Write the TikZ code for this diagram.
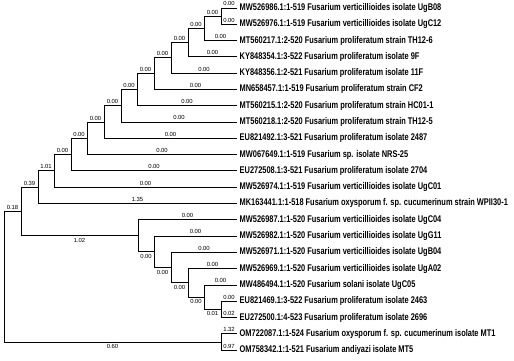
\documentclass[tikz,border=0pt]{standalone}
\usepackage{fontspec}
\setmainfont{Liberation Sans}
\newfontfamily\narrowfont[FakeStretch=0.765]{Liberation Sans}
\begin{document}
\begin{tikzpicture}[x=1pt,y=-1pt,
  br/.style={line width=0.85pt, black},
  leaf/.style={anchor=west, inner sep=0pt, font=\narrowfont\bfseries\fontsize{9.7}{10}\selectfont},
  bl/.style={font=\fontsize{5.9}{6}\selectfont, inner sep=0pt},
  ab/.style={bl, anchor=south, yshift=1.6pt},
  be/.style={bl, anchor=north, yshift=-2pt}]
\useasboundingbox (0,0) rectangle (514,361);
% leaves
\foreach \i/\t in {
0/{MW526986.1:1-519 Fusarium verticillioides isolate UgB08},
1/{MW526976.1:1-519 Fusarium verticillioides isolate UgC12},
2/{MT560217.1:2-520 Fusarium proliferatum strain TH12-6},
3/{KY848354.1:3-522 Fusarium proliferatum isolate 9F},
4/{KY848356.1:2-521 Fusarium proliferatum isolate 11F},
5/{MN658457.1:1-519 Fusarium proliferatum strain CF2},
6/{MT560215.1:2-520 Fusarium proliferatum strain HC01-1},
7/{MT560218.1:2-520 Fusarium proliferatum strain TH12-5},
8/{EU821492.1:3-521 Fusarium proliferatum isolate 2487},
9/{MW067649.1:1-519 Fusarium sp. isolate NRS-25},
10/{EU272508.1:3-521 Fusarium proliferatum isolate 2704},
11/{MW526974.1:1-519 Fusarium verticillioides isolate UgC01},
12/{MK163441.1:1-518 Fusarium oxysporum f. sp. cucumerinum strain WPII30-1},
13/{MW526987.1:1-520 Fusarium verticillioides isolate UgC04},
14/{MW526982.1:1-520 Fusarium verticillioides isolate UgG11},
15/{MW526971.1:1-520 Fusarium verticillioides isolate UgB04},
16/{MW526969.1:1-520 Fusarium verticillioides isolate UgA02},
17/{MW486494.1:1-520 Fusarium solani isolate UgC05},
18/{EU821469.1:3-522 Fusarium proliferatum isolate 2463},
19/{EU272500.1:4-523 Fusarium proliferatum isolate 2696},
20/{OM722087.1:1-524 Fusarium oxysporum f. sp. cucumerinum isolate MT1},
21/{OM758342.1:1-521 Fusarium andiyazi isolate MT5}}{
  \coordinate (l\i) at (237,{8+16.29*\i});
  \node[leaf] (t\i) at (239.5,{8+16.29*\i}) {\t};
}
% internal nodes
\coordinate (A) at (221,16.15);
\coordinate (B) at (204,28.36);
\coordinate (C) at (188,42.62);
\coordinate (D) at (171,57.89);
\coordinate (E) at (154,73.67);
\coordinate (F) at (137,89.70);
\coordinate (G) at (121,105.87);
\coordinate (H) at (104,122.09);
\coordinate (I) at (87,138.35);
\coordinate (J) at (71,154.63);
\coordinate (K) at (54,170.91);
\coordinate (L) at (38,187.19);
\coordinate (N6) at (221,309.37);
\coordinate (N5) at (204,297.15);
\coordinate (N4) at (188,282.89);
\coordinate (N3) at (171,267.62);
\coordinate (N2) at (154,251.84);
\coordinate (N1) at (138,235.81);
\coordinate (M) at (21,211.5);
\coordinate (O) at (221,341.95);
\coordinate (R) at (4,276.7);
% branches
\draw[br] (A) |- (l0) node[ab,pos=0.75] (b0) {0.00};
\draw[br] (A) |- (l1) node[ab,pos=0.75] (b1) {0.00};
\draw[br] (B) |- (A) node[ab,pos=0.75] (bA) {0.00};
\draw[br] (B) |- (l2) node[ab,pos=0.75] (b2) {0.00};
\draw[br] (C) |- (B) node[ab,pos=0.75] (bB) {0.00};
\draw[br] (C) |- (l3) node[ab,pos=0.75] (b3) {0.00};
\draw[br] (D) |- (C) node[ab,pos=0.75] (bC) {0.00};
\draw[br] (D) |- (l4) node[ab,pos=0.75] (b4) {0.00};
\draw[br] (E) |- (D) node[ab,pos=0.75] (bD) {0.00};
\draw[br] (E) |- (l5) node[ab,pos=0.75] (b5) {0.00};
\draw[br] (F) |- (E) node[ab,pos=0.75] (bE) {0.00};
\draw[br] (F) |- (l6) node[ab,pos=0.75] (b6) {0.00};
\draw[br] (G) |- (F) node[ab,pos=0.75] (bF) {0.00};
\draw[br] (G) |- (l7) node[ab,pos=0.75] (b7) {0.00};
\draw[br] (H) |- (G) node[ab,pos=0.75] (bG) {0.00};
\draw[br] (H) |- (l8) node[ab,pos=0.75] (b8) {0.00};
\draw[br] (I) |- (H) node[ab,pos=0.75] (bH) {0.00};
\draw[br] (I) |- (l9) node[ab,pos=0.75] (b9) {0.00};
\draw[br] (J) |- (I) node[ab,pos=0.75] (bI) {0.00};
\draw[br] (J) |- (l10) node[ab,pos=0.75] (b10) {0.00};
\draw[br] (K) |- (J) node[ab,pos=0.75] (bJ) {0.00};
\draw[br] (K) |- (l11) node[ab,pos=0.75] (b11) {0.00};
\draw[br] (L) |- (K) node[ab,pos=0.75] (bK) {1.01};
\draw[br] (L) |- (l12) node[ab,pos=0.75] (b12) {1.35};
\draw[br] (M) |- (L) node[ab,pos=0.75] (bL) {0.39};
\draw[br] (M) |- (N1) node[be,pos=0.75] (bN1) {1.02};
\draw[br] (N1) |- (l13) node[ab,pos=0.75] (b13) {0.00};
\draw[br] (N1) |- (N2) node[be,pos=0.75] (bN2) {0.00};
\draw[br] (N2) |- (l14) node[ab,pos=0.75] (b14) {0.00};
\draw[br] (N2) |- (N3) node[be,pos=0.75] (bN3) {0.00};
\draw[br] (N3) |- (l15) node[ab,pos=0.75] (b15) {0.00};
\draw[br] (N3) |- (N4) node[be,pos=0.75] (bN4) {0.00};
\draw[br] (N4) |- (l16) node[ab,pos=0.75] (b16) {0.00};
\draw[br] (N4) |- (N5) node[be,pos=0.75] (bN5) {0.00};
\draw[br] (N5) |- (l17) node[ab,pos=0.75] (b17) {0.00};
\draw[br] (N5) |- (N6) node[be,pos=0.75] (bN6) {0.01};
\draw[br] (N6) |- (l18) node[ab,pos=0.75] (b18) {0.00};
\draw[br] (N6) |- (l19) node[ab,pos=0.75] (b19) {0.02};
\draw[br] (R) |- (M) node[ab,pos=0.75] (bM) {0.18};
\draw[br] (R) |- (O) node[be,pos=0.75] (bO) {0.60};
\draw[br] (O) |- (l20) node[ab,pos=0.75] (b20) {1.32};
\draw[br] (O) |- (l21) node[ab,pos=0.75] (b21) {0.97};
\end{tikzpicture}
\end{document}
